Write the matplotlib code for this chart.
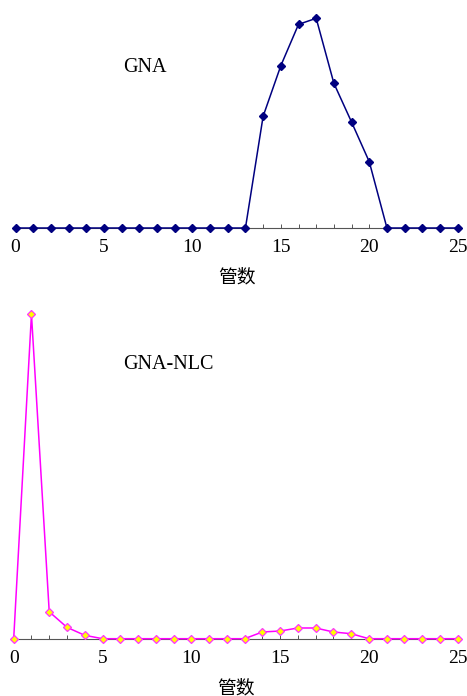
import matplotlib
matplotlib.use("Agg")
import matplotlib.pyplot as plt
from matplotlib.ticker import MultipleLocator, FixedLocator

# Data (relative absorbance, normalised to peak)
tubes = list(range(0, 26))
gna = [0, 0, 0, 0, 0, 0, 0, 0, 0, 0, 0, 0, 0, 0,
       0.533, 0.774, 0.971, 1.0, 0.690, 0.505, 0.316,
       0, 0, 0, 0, 0]
gna_nlc = [0, 1.0, 0.083, 0.035, 0.0105, 0, 0, 0, 0, 0, 0, 0, 0, 0,
           0.0207, 0.0237, 0.033, 0.033, 0.0207, 0.0154,
           0, 0, 0, 0, 0, 0]
xticks = [0, 5, 10, 15, 20, 25]
xlabel = "管数"
titles = ["GNA", "GNA-NLC"]

W, H = 467, 696
fig = plt.figure(figsize=(W / 100, H / 100), dpi=100)

serif = "Liberation Serif"
cjk = ["Noto Sans CJK SC", "DejaVu Sans"]

def px_axes(x0, x1, ybase, ytop):
    return [x0 / W, (H - ybase) / H, (x1 - x0) / W, (ybase - ytop) / H]

def style(ax):
    for s in ["top", "right", "left"]:
        ax.spines[s].set_visible(False)
    ax.spines["bottom"].set_color("#555555")
    ax.spines["bottom"].set_linewidth(0.8)
    ax.set_yticks([])
    ax.set_xlim(0, 25)
    ax.set_ylim(0, 1)
    ax.xaxis.set_major_locator(FixedLocator(xticks))
    ax.xaxis.set_minor_locator(MultipleLocator(1))
    ax.tick_params(axis="x", which="both", direction="in", length=3,
                   width=0.7, color="#555555", pad=8,
                   labelsize=14, labelfontfamily=serif)
    ax.set_xlabel(xlabel, fontfamily=cjk, fontsize=13.5, labelpad=7.5)
    ax.patch.set_alpha(0)

ax1 = fig.add_axes(px_axes(15.5, 457.7, 228, 18.3))
style(ax1)
ax1.plot(tubes, gna, color="#000080", lw=1.1, marker="D", ms=4.3,
         mfc="#000080", mec="#000080", clip_on=False, zorder=5)
ax1.text((123 - 15.5) / 442.2, (228 - 68) / 209.7, titles[0],
         transform=ax1.transAxes, fontfamily=serif, fontsize=14.5,
         va="center", ha="left")

ax2 = fig.add_axes(px_axes(13.7, 457.7, 638.7, 314.3))
style(ax2)
ax2.plot(tubes, gna_nlc, color="#FF00FF", lw=1.1, marker="D", ms=3.6,
         mfc="#FFFF00", mec="#FF33FF", mew=0.9, clip_on=False, zorder=5)
ax2.text((123 - 13.7) / 444, (638.7 - 364.5) / 324.4, titles[1],
         transform=ax2.transAxes, fontfamily=serif, fontsize=14.5,
         va="center", ha="left")

fig.savefig("out.png", dpi=100)
